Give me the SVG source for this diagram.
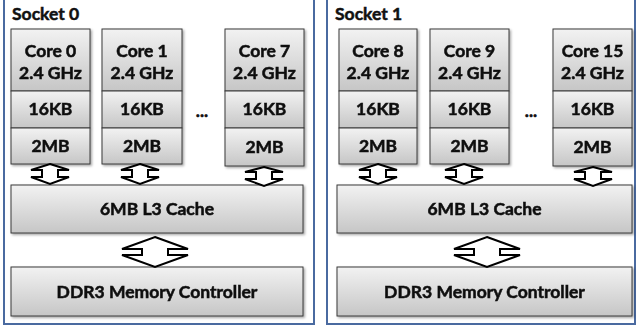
<svg xmlns="http://www.w3.org/2000/svg" width="637" height="331" viewBox="0 0 637 331">
<defs>
<linearGradient id="g" x1="0" y1="0" x2="0" y2="1">
<stop offset="0" stop-color="#f2f2f2"/>
<stop offset="1" stop-color="#c6c6c6"/>
</linearGradient>
<filter id="sh" x="-10%" y="-10%" width="130%" height="140%">
<feDropShadow dx="1.5" dy="1.5" stdDeviation="1" flood-color="#000" flood-opacity="0.35"/>
</filter>
</defs>
<style>
.sock{fill:#fff;stroke:#4a6aa0;stroke-width:2}
.box{fill:url(#g);stroke:#3a3a3a;stroke-width:1}
.sh{filter:url(#sh)}
.t{font-family:Lato,"Open Sans","Liberation Sans",sans-serif;font-weight:bold;fill:#111;stroke:#111;stroke-width:0.55;text-anchor:middle}
.t1{font-size:17.5px}
.tl{font-family:Lato,"Open Sans","Liberation Sans",sans-serif;font-weight:bold;fill:#111;stroke:#111;stroke-width:0.5;font-size:17.5px}
.arr{fill:#fff;stroke:#000;stroke-width:2;stroke-linejoin:miter}
</style>
<g id="socket0">
<rect class="sock" x="4" y="-2" width="310" height="326"/>
<text class="tl" x="12" y="20">Socket 0</text>
</g>
<g id="socket1">
<rect class="sock" x="327" y="-2" width="308" height="326"/>
<text class="tl" x="335" y="20">Socket 1</text>
</g>
<g id="core0" class="sh">
<rect class="box" x="11" y="29" width="79" height="62"/>
<rect class="box" x="11" y="91" width="79" height="37"/>
<rect class="box" x="11" y="128" width="79" height="36"/>
<text class="t t1" x="50.5" y="57">Core 0</text>
<text class="t t1" x="50.5" y="79">2.4 GHz</text>
<text class="t t1" x="50.5" y="115">16KB</text>
<text class="t t1" x="50.5" y="152">2MB</text>
</g>
<g id="core1" class="sh">
<rect class="box" x="102" y="29" width="80" height="62"/>
<rect class="box" x="102" y="91" width="80" height="37"/>
<rect class="box" x="102" y="128" width="80" height="36"/>
<text class="t t1" x="142" y="57">Core 1</text>
<text class="t t1" x="142" y="79">2.4 GHz</text>
<text class="t t1" x="142" y="115">16KB</text>
<text class="t t1" x="142" y="152">2MB</text>
</g>
<text class="t t1" x="202" y="117">...</text>
<g id="core7" class="sh">
<rect class="box" x="225" y="29" width="79" height="62"/>
<rect class="box" x="225" y="91" width="79" height="37"/>
<rect class="box" x="225" y="128" width="79" height="38"/>
<text class="t t1" x="264.5" y="57">Core 7</text>
<text class="t t1" x="264.5" y="79">2.4 GHz</text>
<text class="t t1" x="264.5" y="115">16KB</text>
<text class="t t1" x="264.5" y="153">2MB</text>
</g>
<g id="l3_0" class="sh">
<rect class="box" x="11" y="185" width="292" height="48"/>
<text class="t t1" x="157" y="215">6MB L3 Cache</text>
</g>
<g id="mem0" class="sh">
<rect class="box" x="11" y="267" width="292" height="49"/>
<text class="t t1" x="157" y="298">DDR3 Memory Controller</text>
</g>
<g id="core8" class="sh">
<rect class="box" x="339" y="29" width="78" height="62"/>
<rect class="box" x="339" y="91" width="78" height="37"/>
<rect class="box" x="339" y="128" width="78" height="36"/>
<text class="t t1" x="378" y="57">Core 8</text>
<text class="t t1" x="378" y="79">2.4 GHz</text>
<text class="t t1" x="378" y="115">16KB</text>
<text class="t t1" x="378" y="152">2MB</text>
</g>
<g id="core9" class="sh">
<rect class="box" x="430" y="29" width="79" height="62"/>
<rect class="box" x="430" y="91" width="79" height="37"/>
<rect class="box" x="430" y="128" width="79" height="36"/>
<text class="t t1" x="469.5" y="57">Core 9</text>
<text class="t t1" x="469.5" y="79">2.4 GHz</text>
<text class="t t1" x="469.5" y="115">16KB</text>
<text class="t t1" x="469.5" y="152">2MB</text>
</g>
<text class="t t1" x="531" y="117">...</text>
<g id="core15" class="sh">
<rect class="box" x="553" y="29" width="79" height="62"/>
<rect class="box" x="553" y="91" width="79" height="37"/>
<rect class="box" x="553" y="128" width="79" height="38"/>
<text class="t t1" x="592.5" y="57">Core 15</text>
<text class="t t1" x="592.5" y="79">2.4 GHz</text>
<text class="t t1" x="592.5" y="115">16KB</text>
<text class="t t1" x="592.5" y="153">2MB</text>
</g>
<g id="l3_1" class="sh">
<rect class="box" x="337" y="185" width="295" height="48"/>
<text class="t t1" x="484.5" y="215">6MB L3 Cache</text>
</g>
<g id="mem1" class="sh">
<rect class="box" x="337" y="267" width="295" height="49"/>
<text class="t t1" x="484.5" y="298">DDR3 Memory Controller</text>
</g>
<g id="connectors">
<polygon class="arr" points="50,164 69,170 58,170 58,177 69,177 50,184 31,177 42,177 42,170 31,170"/>
<polygon class="arr" points="140,164 159,170 148,170 148,177 159,177 140,184 121,177 132,177 132,170 121,170"/>
<polygon class="arr" points="264,167 283,172 272,172 272,179 283,179 264,186 245,179 256,179 256,172 245,172"/>
<polygon class="arr" points="155,237 188,249 168,249 168,255 188,255 155,267 122,255 142,255 142,249 122,249"/>
<polygon class="arr" points="378,164 397,170 386,170 386,177 397,177 378,184 359,177 370,177 370,170 359,170"/>
<polygon class="arr" points="464,164 483,170 472,170 472,177 483,177 464,184 445,177 456,177 456,170 445,170"/>
<polygon class="arr" points="593,167 612,172 601,172 601,179 612,179 593,186 574,179 585,179 585,172 574,172"/>
<polygon class="arr" points="487,237 520,249 500,249 500,255 520,255 487,267 454,255 474,255 474,249 454,249"/>
</g>
</svg>
